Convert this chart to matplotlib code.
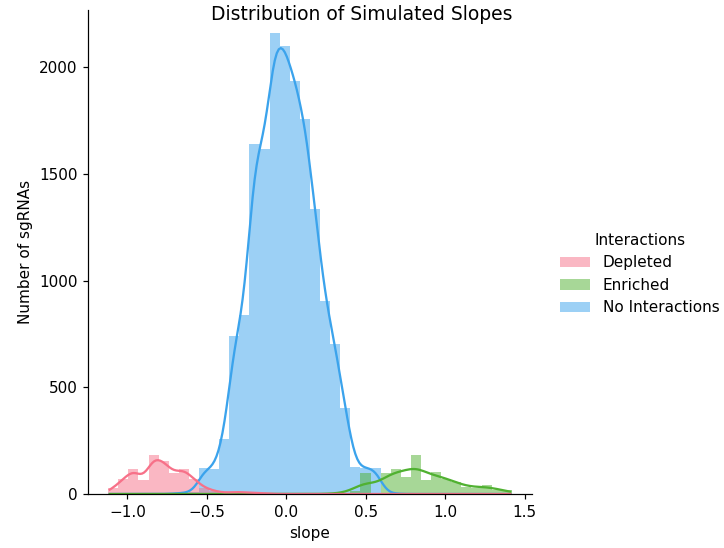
import numpy as np
import pandas as pd
import matplotlib
matplotlib.use("Agg")
import matplotlib.pyplot as plt
from matplotlib.patches import Patch
import seaborn as sns

# Histogram bin edges (40 common bins over the slope range)
bin_edges = np.linspace(-1.121, 1.419, 41)
bin_centers = (bin_edges[:-1] + bin_edges[1:]) / 2

groups = ["Depleted", "Enriched", "No Interactions"]

depleted_counts = [28, 70, 119, 64, 181, 153, 98, 119, 70, 30,
                   15, 5, 10, 8, 5, 3, 0, 0, 0, 0,
                   0, 0, 0, 0, 0, 0, 0, 0, 0, 0,
                   0, 0, 0, 0, 0, 0, 0, 0, 0, 0]
enriched_counts = [0, 0, 0, 0, 0, 0, 0, 0, 0, 0,
                   0, 0, 0, 0, 0, 0, 0, 0, 0, 0,
                   0, 0, 3, 5, 12, 100, 0, 98, 119, 78,
                   181, 64, 101, 70, 55, 33, 28, 42, 20, 17]
none_counts = [0, 0, 0, 0, 0, 0, 2, 5, 10, 120,
               118, 260, 742, 838, 1641, 1618, 2160, 2098, 1937, 1755,
               1337, 903, 702, 403, 125, 122, 122, 5, 2, 0,
               0, 0, 0, 0, 0, 0, 0, 0, 0, 0]

# KDE smoothing per group
bw_adjust = {"Depleted": 0.36, "Enriched": 0.47, "No Interactions": 0.34}

colors = dict(zip(groups, sns.color_palette("husl", 3)))

DPI = 109.6
fig = plt.figure(figsize=(724 / DPI, 548 / DPI), dpi=DPI)
ax = fig.add_axes([88/724, 1-494/548, (532-88)/724, (494-10)/548])

all_counts = {"Depleted": depleted_counts, "Enriched": enriched_counts,
              "No Interactions": none_counts}
edges_list = [float(e) for e in bin_edges]
for name in reversed(groups):
    counts = np.array(all_counts[name])
    mask = counts > 0
    sns.histplot(x=bin_centers[mask], weights=counts[mask], bins=edges_list,
                 kde=True, color=colors[name], alpha=0.5, linewidth=0,
                 kde_kws={"bw_adjust": bw_adjust[name], "cut": 50,
                          "clip": (bin_edges[0] + 0.01, bin_edges[-1] - 0.01)},
                 line_kws={"linewidth": 1.5}, ax=ax)

sns.despine(ax=ax)
ax.set_xlabel("slope")
ax.set_ylabel("Number of sgRNAs")
fig.suptitle("Distribution of Simulated Slopes", y=0.991, fontsize=12.3)

handles = [Patch(facecolor=colors[n], alpha=0.5, linewidth=0) for n in groups]
fig.legend(handles, groups, title="Interactions", loc="center right",
           bbox_to_anchor=(1 + 9/724, 0.5), frameon=False)
fig.savefig("out.png", dpi=DPI)
